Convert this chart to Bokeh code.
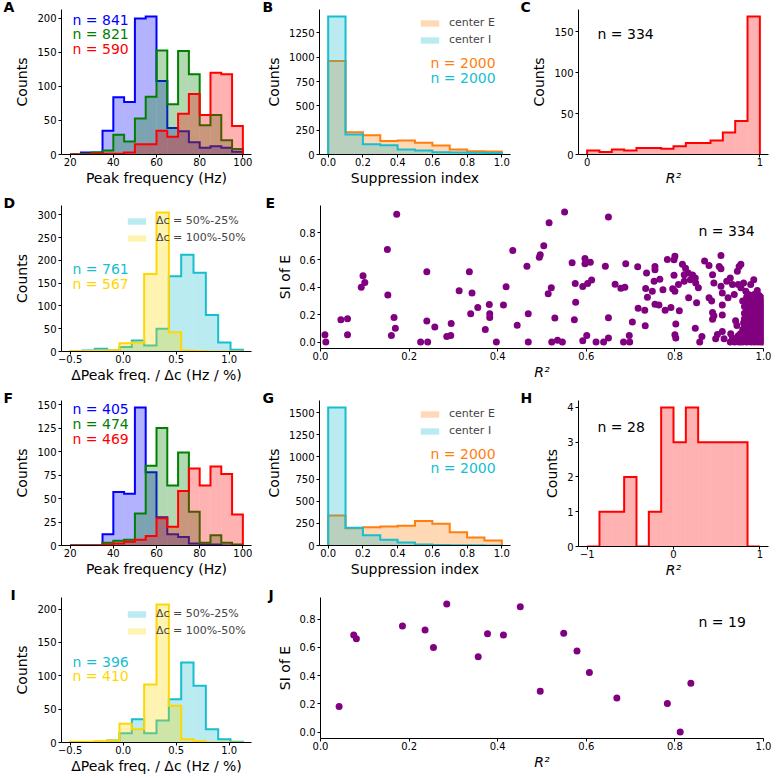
import numpy as np
from bokeh.plotting import figure
from bokeh.layouts import column, row
from bokeh.models import Range1d, FixedTicker, Label, Legend, LegendItem, PrintfTickFormatter
from bokeh.embed import file_html
from bokeh.resources import INLINE

FONT = "DejaVu Sans"

# ---------------- data ----------------
freq_edges = [20, 25, 30, 35, 40, 45, 50, 55, 60, 65, 70, 75, 80, 85, 90, 95, 100]
A_blue = [0, 3, 3, 35, 84, 77, 200, 203, 108, 39, 34, 18, 10, 12, 10, 4]
A_green = [0, 1, 3, 6, 29, 19, 53, 85, 153, 74, 152, 118, 43, 58, 21, 8]
A_red = [0, 0, 1, 1, 1, 3, 15, 15, 35, 26, 60, 89, 58, 120, 118, 42]
A_n = ["n = 841", "n = 821", "n = 590"]

F_blue = [0, 0, 0, 12, 57, 55, 147, 78, 30, 12, 9, 2, 1, 1, 0, 0]
F_green = [0, 0, 0, 3, 5, 6, 34, 85, 125, 64, 99, 36, 3, 11, 3, 1]
F_red = [0, 0, 0, 1, 2, 4, 6, 10, 29, 20, 58, 82, 64, 84, 76, 33]
F_n = ["n = 405", "n = 474", "n = 469"]

si_edges = [0.0, 0.1, 0.2, 0.3, 0.4, 0.5, 0.6, 0.7, 0.8, 0.9, 1.0]
B_E = [962, 229, 199, 140, 144, 120, 92, 51, 33, 30]
B_I = [1420, 205, 106, 96, 51, 41, 24, 20, 18, 15]
G_E = [340, 196, 207, 215, 222, 278, 245, 151, 90, 57]
G_I = [1560, 200, 115, 65, 35, 12, 6, 4, 2, 1]
BG_labels = ["center E", "center I"]
BG_n = ["n = 2000", "n = 2000"]

r2_edges_C = np.linspace(0.0, 1.0, 15)
C_counts = [5, 3, 6, 5, 8, 8, 7, 10, 14, 14, 17, 27, 41, 169]
r2_edges_H = np.linspace(-1.0, 1.0, 15)
H_counts = [0, 1, 1, 2, 0, 1, 4, 3, 4, 3, 3, 3, 3, 0]

dpf_edges = np.linspace(-0.5, 1.13, 15)
D_cyan = [0, 2, 6, 3, 10, 24, 13, 50, 165, 212, 173, 80, 20, 4]
D_gold = [1, 1, 2, 3, 18, 20, 170, 305, 42, 2, 1, 0, 0, 0]
D_n = ["n = 761", "n = 567"]
I_cyan = [0, 0, 1, 3, 14, 35, 14, 33, 65, 120, 85, 20, 5, 1]
I_gold = [1, 1, 2, 3, 28, 20, 87, 207, 55, 5, 2, 0, 0, 0]
I_n = ["n = 396", "n = 410"]
dc_labels = ["\u0394c = 50%-25%", "\u0394c = 100%-50%"]

E_r2 = [0.010, 0.012, 0.046, 0.061, 0.061, 0.092, 0.096, 0.100, 0.151, 0.152,
        0.172, 0.166, 0.169, 0.160, 0.240, 0.240, 0.226, 0.242, 0.258, 0.285,
        0.294, 0.295, 0.313, 0.336, 0.342, 0.339, 0.355, 0.372, 0.381, 0.382,
        0.382, 0.397, 0.413, 0.419, 0.434, 0.444, 0.466, 0.469, 0.469, 0.494,
        0.496, 0.504, 0.514, 0.521, 0.516, 0.529, 0.522, 0.535, 0.546, 0.551,
        0.568, 0.573, 0.575, 0.576, 0.592, 0.592, 0.597, 0.597, 0.601, 0.603,
        0.609, 0.612, 0.622, 0.639, 0.643, 0.650, 0.650, 0.650, 0.665, 0.678,
        0.687, 0.689, 0.684, 0.697, 0.698, 0.704, 0.716, 0.717, 0.732, 0.733,
        0.736, 0.734, 0.738, 0.749, 0.755, 0.755, 0.753, 0.755, 0.764, 0.766,
        0.773, 0.778, 0.783, 0.791, 0.795, 0.800, 0.798, 0.798, 0.800, 0.802,
        0.800, 0.802, 0.810, 0.808, 0.817, 0.821, 0.824, 0.821, 0.831, 0.830,
        0.835, 0.840, 0.846, 0.847, 0.849, 0.853, 0.846, 0.861, 0.856, 0.867,
        0.877, 0.885, 0.888, 0.877, 0.883, 0.885, 0.888, 0.885, 0.892, 0.896,
        0.900, 0.904, 0.904, 0.904, 0.907, 0.907, 0.907, 0.907, 0.911, 0.917,
        0.920, 0.925, 0.926, 0.930, 0.934, 0.937, 0.940, 0.941, 0.945, 0.949,
        0.943, 0.949, 0.953, 0.955, 0.960, 0.966, 0.971, 0.978, 0.986, 0.991, 0.995,
        0.935, 0.940, 0.945, 0.950, 0.952, 0.930, 0.925, 0.948, 0.953, 0.943,
        0.955, 0.958, 0.962, 0.970, 0.980, 0.990]
E_si = [0.053, 0.0, 0.163, 0.170, 0.053, 0.400, 0.485, 0.435, 0.677, 0.343,
        0.935, 0.180, 0.100, 0.048, 0.514, 0.154, 0.0, 0.0, 0.110, 0.040,
        0.048, 0.135, 0.375, 0.514, 0.358, 0.207, 0.252, 0.091, 0.274, 0.207,
        0.180, 0.0, 0.271, 0.404, 0.670, 0.123, 0.555, 0.207, 0.0, 0.620,
        0.639, 0.704, 0.353, 0.396, 0.872, 0.175, 0.0, 0.012, 0.0, 0.951,
        0.579, 0.163, 0.428, 0.290, 0.010, 0.406, 0.610, 0.572, 0.048, 0.428,
        0.584, 0.454, 0.0, 0.0, 0.555, 0.915, 0.178, 0.029, 0.423, 0.394,
        0.401, 0.572, 0.0, 0.048, 0.0, 0.147, 0.550, 0.247, 0.233, 0.118,
        0.505, 0.392, 0.327, 0.372, 0.552, 0.529, 0.444, 0.276, 0.271, 0.459,
        0.382, 0.233, 0.603, 0.252, 0.389, 0.627, 0.601, 0.488, 0.372, 0.132,
        0.053, 0.029, 0.228, 0.420, 0.569, 0.492, 0.540, 0.444, 0.324, 0.505,
        0.456, 0.490, 0.468, 0.432, 0.288, 0.396, 0.100, 0.040, 0.0, 0.593,
        0.560, 0.492, 0.432, 0.324, 0.300, 0.216, 0.192, 0.166, 0.024, 0.055,
        0.552, 0.535, 0.632, 0.408, 0.358, 0.271, 0.197, 0.077, 0.024, 0.444,
        0.324, 0.468, 0.060, 0.420, 0.348, 0.156, 0.120, 0.517, 0.552, 0.569,
        0.420, 0.396, 0.300, 0.432, 0.372, 0.348, 0.420, 0.456, 0.377, 0.336, 0.324,
        0.0, 0.020, 0.0, 0.030, 0.0, 0.030, 0.0, 0.060, 0.090, 0.045,
        0.140, 0.300, 0.330, 0.340, 0.350, 0.340]
# dense cluster near R^2 = 1 (R^2 value -> SI values)
E_cluster = {
    0.957: [0.005, 0.04, 0.08, 0.12, 0.17, 0.21, 0.26],
    0.962: [0.0, 0.03, 0.07, 0.11, 0.15, 0.19, 0.23, 0.28],
    0.967: [0.01, 0.05, 0.09, 0.13, 0.18, 0.22, 0.27, 0.30],
    0.972: [0.0, 0.04, 0.08, 0.12, 0.16, 0.20, 0.24, 0.29],
    0.976: [0.02, 0.06, 0.10, 0.14, 0.19, 0.23, 0.27, 0.31],
    0.980: [0.0, 0.03, 0.07, 0.11, 0.15, 0.18, 0.22, 0.26, 0.30],
    0.984: [0.01, 0.05, 0.09, 0.13, 0.17, 0.21, 0.25, 0.29],
    0.988: [0.0, 0.04, 0.08, 0.12, 0.16, 0.20, 0.24, 0.28, 0.31],
    0.992: [0.02, 0.06, 0.10, 0.14, 0.18, 0.22, 0.26, 0.30],
    0.995: [0.0, 0.04, 0.08, 0.12, 0.16, 0.20, 0.24, 0.28],
    0.998: [0.01, 0.05, 0.09, 0.13, 0.17, 0.21, 0.25, 0.29, 0.32],
    1.000: [0.0, 0.03, 0.07, 0.11, 0.15, 0.19, 0.23, 0.27],
}
E_n = "n = 334"

J_r2 = [0.042, 0.075, 0.081, 0.185, 0.236, 0.255, 0.285, 0.356, 0.377, 0.413,
        0.451, 0.496, 0.549, 0.579, 0.607, 0.669, 0.783, 0.812, 0.836]
J_si = [0.181, 0.688, 0.662, 0.752, 0.724, 0.600, 0.908, 0.534, 0.697, 0.688,
        0.887, 0.289, 0.701, 0.575, 0.422, 0.241, 0.202, 0.0, 0.346]
J_n = "n = 19"
C_n = "n = 334"
H_n = "n = 28"

# tick lists
freq_ticks = [20, 40, 60, 80, 100]
si_ticks = [0.0, 0.2, 0.4, 0.6, 0.8, 1.0]
si_yticks = [0.0, 0.2, 0.4, 0.6, 0.8]
dpf_ticks = [-0.5, 0.0, 0.5, 1.0]

# ---------------- helpers ----------------
def outline(edges, counts):
    xs, ys = [float(edges[0])], [0]
    for i, c in enumerate(counts):
        xs += [float(edges[i]), float(edges[i + 1])]
        ys += [c, c]
    xs.append(float(edges[-1]))
    ys.append(0)
    return xs, ys


def hist(p, edges, counts, color):
    edges = [float(e) for e in edges]
    r = p.quad(left=edges[:-1], right=edges[1:], bottom=0, top=counts,
               fill_color=color, fill_alpha=0.3, line_color=None)
    xs, ys = outline(edges, counts)
    p.line(xs, ys, line_color=color, line_width=2, line_join="miter")
    return r


def xr_hist(edges):
    lo, hi = float(edges[0]), float(edges[-1])
    m = 0.05 * (hi - lo)
    return (lo - m, hi + m)


def yr_hist(*series):
    return (0, 1.05 * max(max(s) for s in series))


def yr_data(vals):
    lo, hi = min(vals), max(vals)
    m = 0.05 * (hi - lo)
    return (lo - m, hi + m)


def mkfig(letter, loff, fw, fh, bl, br, bt, bb, xr, yr):
    p = figure(frame_width=fw, frame_height=fh, x_range=Range1d(*xr), y_range=Range1d(*yr),
               min_border_left=bl, min_border_right=br, min_border_top=bt, min_border_bottom=bb,
               output_backend="svg", toolbar_location=None)
    p.outline_line_color = None
    p.xgrid.visible = False
    p.ygrid.visible = False
    p.background_fill_color = "white"
    p.border_fill_color = "white"
    # panel letter as the figure title, pushed left of the frame
    p.title.text = letter
    p.title.align = "left"
    p.title.offset = loff
    p.title.standoff = -10
    p.title.text_font = FONT
    p.title.text_font_size = "14px"
    p.title.text_font_style = "bold"
    p.title.text_color = "black"
    for ax in (p.xaxis[0], p.yaxis[0]):
        ax.axis_line_color = "black"
        ax.axis_line_width = 1
        ax.major_tick_line_color = "black"
        ax.major_tick_out = 3
        ax.major_tick_in = 0
        ax.minor_tick_line_color = None
        ax.major_label_text_font = FONT
        ax.major_label_text_font_size = "10px"
        ax.major_label_text_color = "black"
        ax.axis_label_text_font = FONT
        ax.axis_label_text_font_size = "14px"
        ax.axis_label_text_font_style = "normal"
        ax.axis_label_text_color = "black"
    p.xaxis.major_label_standoff = 0
    p.xaxis.axis_label_standoff = 1
    p.yaxis.major_label_standoff = 2
    p.yaxis.axis_label_standoff = 4
    return p


def axes(p, xticks, yticks, xlabel, ylabel, xfmt=None, yfmt=None, xover=None, xitalic=False):
    p.xaxis.ticker = FixedTicker(ticks=xticks)
    p.yaxis.ticker = FixedTicker(ticks=yticks)
    if xfmt:
        p.xaxis.formatter = PrintfTickFormatter(format=xfmt)
    if yfmt:
        p.yaxis.formatter = PrintfTickFormatter(format=yfmt)
    if xover:
        p.xaxis.major_label_overrides = xover
    p.xaxis.axis_label = xlabel
    p.yaxis.axis_label = ylabel
    if xitalic:
        p.xaxis.axis_label_text_font_style = "italic"


def label(p, txt, dx, dy, fh, color="black", size="14px", align="left"):
    p.add_layout(Label(x=dx, y=fh - dy, x_units="screen", y_units="screen", text=txt,
                       text_font=FONT, text_font_size=size, text_color=color,
                       text_align=align, text_baseline="middle"))


def legend(p, renderers, texts, x, y):
    lg = Legend(items=[LegendItem(label=t, renderers=[r]) for r, t in zip(renderers, texts)],
                location=(x, y), orientation="vertical",
                border_line_color=None, background_fill_alpha=0,
                label_text_font=FONT, label_text_font_size="11px",
                glyph_width=23, glyph_height=8, label_height=12, spacing=4,
                padding=0, margin=0, label_standoff=8)
    p.add_layout(lg)


# column geometry (pixels): left border, frame width, right border
C1 = (61, 190, 10)
C2 = (58, 191, 9)
C3 = (59, 190, 8)
CW = (59, 443, 13)
BB = 38

# ---------------- row 1 ----------------
FH1 = 145
pA = mkfig("A", -58, C1[1], FH1, C1[0], C1[2], 9, BB, xr_hist(freq_edges), yr_hist(A_blue, A_green, A_red))
for cnt, col in ((A_blue, "blue"), (A_green, "green"), (A_red, "red")):
    hist(pA, freq_edges, cnt, col)
axes(pA, freq_ticks, [0, 50, 100, 150, 200], "Peak frequency (Hz)", "Counts")
for i, (t, c) in enumerate(zip(A_n, ["blue", "green", "red"])):
    label(pA, t, 11, 10 + 14.5 * i, FH1, color=c)

pB = mkfig("B", -57, C2[1], FH1, C2[0], C2[2], 9, BB, xr_hist(si_edges), yr_hist(B_E, B_I))
rBE = hist(pB, si_edges, B_E, "#ff7f0e")
rBI = hist(pB, si_edges, B_I, "#17becf")
axes(pB, si_ticks, [0, 250, 500, 750, 1000, 1250], "Suppression index", "Counts", xfmt="%.1f")
legend(pB, [rBE, rBI], BG_labels, 99, FH1 - 37)
label(pB, BG_n[0], 111, 53, FH1, color="#ff7f0e")
label(pB, BG_n[1], 111, 68, FH1, color="#17becf")

pC = mkfig("C", -58, C3[1], FH1, C3[0], C3[2], 9, BB, xr_hist(r2_edges_C), yr_hist(C_counts))
hist(pC, r2_edges_C, C_counts, "red")
axes(pC, [0, 1], [0, 50, 100, 150], "R\u00b2", "Counts", xitalic=True)
label(pC, C_n, 19, 24, FH1)

# ---------------- row 2 ----------------
FHD = 146
pD = mkfig("D", -58, C1[1], FHD, C1[0], C1[2], 10, BB, xr_hist(dpf_edges), yr_hist(D_cyan, D_gold))
rDc = hist(pD, dpf_edges, D_cyan, "#17becf")
rDg = hist(pD, dpf_edges, D_gold, "#ffd700")
axes(pD, dpf_ticks, [0, 50, 100, 150, 200, 250, 300], "\u0394Peak freq. / \u0394c (Hz / %)", "Counts",
     xfmt="%.1f", xover={-0.5: "\u22120.5"})
legend(pD, [rDc, rDg], dc_labels, 64, FHD - 39)
label(pD, D_n[0], 11, 63, FHD, color="#17becf")
label(pD, D_n[1], 11, 78, FHD, color="#ffd700")

FHE = 143
e_x = list(E_r2)
e_y = list(E_si)
for r2v, sis in E_cluster.items():
    for s in sis:
        e_x.append(r2v)
        e_y.append(s)
pE = mkfig("E", -55, CW[1], FHE, CW[0], CW[2], 13, BB, (0.0, 1.0), yr_data(e_y))
pE.scatter(e_x, e_y, size=7, color="purple", line_color=None)
axes(pE, si_ticks, si_yticks, "R\u00b2", "SI of E", xfmt="%.1f", yfmt="%.1f", xitalic=True)
label(pE, E_n, 378, 25, FHE)

# ---------------- row 3 ----------------
FH3 = 145
pF = mkfig("F", -58, C1[1], FH3, C1[0], C1[2], 14, BB, xr_hist(freq_edges), yr_hist(F_blue, F_green, F_red))
for cnt, col in ((F_blue, "blue"), (F_green, "green"), (F_red, "red")):
    hist(pF, freq_edges, cnt, col)
axes(pF, freq_ticks, [0, 25, 50, 75, 100, 125, 150], "Peak frequency (Hz)", "Counts")
for i, (t, c) in enumerate(zip(F_n, ["blue", "green", "red"])):
    label(pF, t, 11, 8 + 15 * i, FH3, color=c)

pG = mkfig("G", -57, C2[1], FH3, C2[0], C2[2], 14, BB, xr_hist(si_edges), yr_hist(G_E, G_I))
rGE = hist(pG, si_edges, G_E, "#ff7f0e")
rGI = hist(pG, si_edges, G_I, "#17becf")
axes(pG, si_ticks, [0, 250, 500, 750, 1000, 1250, 1500], "Suppression index", "Counts", xfmt="%.1f")
legend(pG, [rGE, rGI], BG_labels, 99, FH3 - 37)
label(pG, BG_n[0], 111, 53, FH3, color="#ff7f0e")
label(pG, BG_n[1], 111, 67, FH3, color="#17becf")

pH = mkfig("H", -58, C3[1], FH3 + 1, C3[0], C3[2], 13, BB, xr_hist(r2_edges_H), yr_hist(H_counts))
hist(pH, r2_edges_H, H_counts, "red")
axes(pH, [-1, 0, 1], [0, 1, 2, 3, 4], "R\u00b2", "Counts", xover={-1: "\u22121"}, xitalic=True)
label(pH, H_n, 19, 26, FH3 + 1)

# ---------------- row 4 ----------------
FHI = 145
pI = mkfig("I", -51, C1[1], FHI, C1[0], C1[2], 10, BB, xr_hist(dpf_edges), yr_hist(I_cyan, I_gold))
rIc = hist(pI, dpf_edges, I_cyan, "#17becf")
rIg = hist(pI, dpf_edges, I_gold, "#ffd700")
axes(pI, dpf_ticks, [0, 50, 100, 150, 200], "\u0394Peak freq. / \u0394c (Hz / %)", "Counts",
     xfmt="%.1f", xover={-0.5: "\u22120.5"})
legend(pI, [rIc, rIg], dc_labels, 64, FHI - 40)
label(pI, I_n[0], 11, 64, FHI, color="#17becf")
label(pI, I_n[1], 11, 78, FHI, color="#ffd700")

FHJ = 141
pJ = mkfig("J", -52, CW[1], FHJ, CW[0], CW[2], 14, BB, (0.0, 1.0), yr_data(J_si))
pJ.scatter(J_r2, J_si, size=7, color="purple", line_color=None)
axes(pJ, si_ticks, si_yticks, "R\u00b2", "SI of E", xfmt="%.1f", yfmt="%.1f", xitalic=True)
label(pJ, J_n, 378, 24, FHJ)

layout = column(row(pA, pB, pC), row(pD, pE), row(pF, pG, pH), row(pI, pJ))

with open("out.html", "w") as f:
    f.write(file_html(layout, INLINE))
